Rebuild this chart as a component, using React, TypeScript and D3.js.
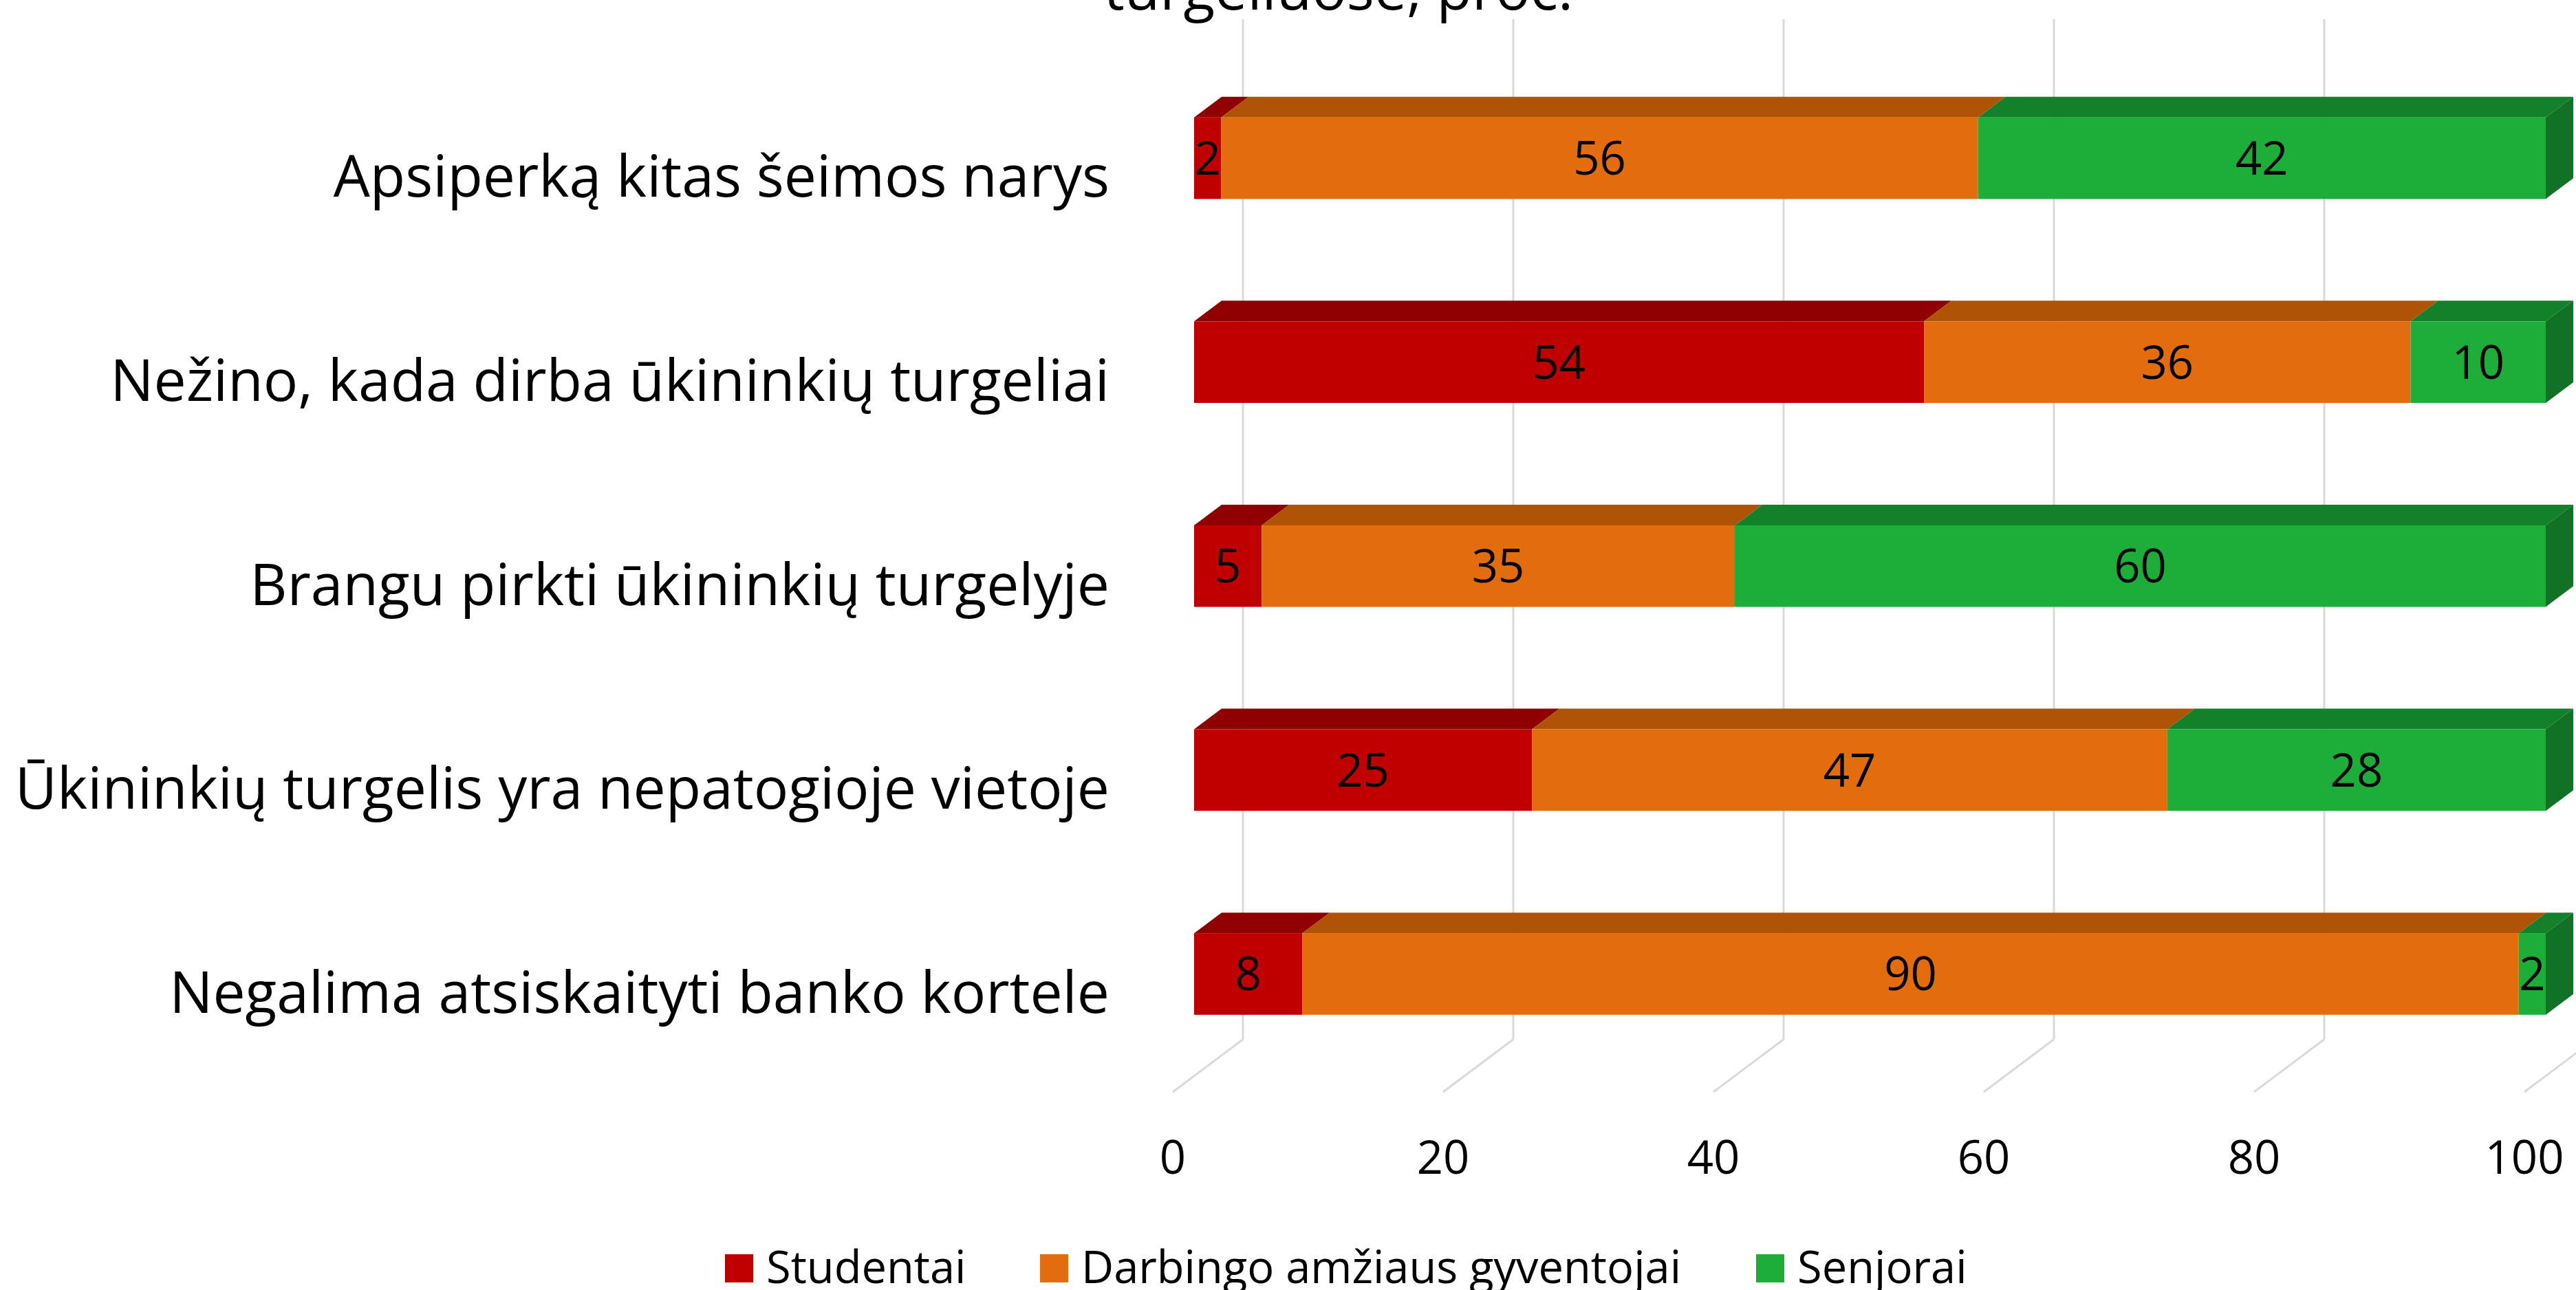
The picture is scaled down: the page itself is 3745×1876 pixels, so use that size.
import React from "react"
import * as d3 from "d3"

const categories = [
  "Apsiperką kitas šeimos narys",
  "Nežino, kada dirba ūkininkių turgeliai",
  "Brangu pirkti ūkininkių turgelyje",
  "Ūkininkių turgelis yra nepatogioje vietoje",
  "Negalima atsiskaityti banko kortele"
]

const seriesNames = ["Studentai", "Darbingo amžiaus gyventojai", "Senjorai"]
const studentai = [2, 54, 5, 25, 8]
const darbingo = [56, 36, 35, 47, 90]
const senjorai = [42, 10, 60, 28, 2]
const ticks = [0, 20, 40, 60, 80, 100]

const colors = [
  { front: "#C00000", top: "#900000", side: "#7A0000" },
  { front: "#E36C0C", top: "#AF5307", side: "#964705" },
  { front: "#1DAE39", top: "#13812A", side: "#117125" }
]

const W = 3745
const H = 1876
const FONT = "'Open Sans', 'Noto Sans', sans-serif"

// oblique 3d: depth d moves (+d, -0.75d)
const SLOPE = 0.75
const D_BAR_FRONT = 31
const D_BAR_BACK = 71
const D_WALL = 102
const FLOOR_Y = 1588

const xScale = d3.scaleLinear().domain([0, 100]).range([1705, 3670])
const yScale = d3
  .scaleBand<string>()
  .domain(categories)
  .range([105, FLOOR_Y])
  .paddingInner(0.6)
  .paddingOuter(0.3)

const legendX = [1054, 1512, 2553]

export default function App() {
  const rows = categories.map((c, i) => {
    const vals = [studentai[i], darbingo[i], senjorai[i]]
    let acc = 0
    const segs = vals.map((v, k) => {
      const s = { k, v, x0: acc, x1: acc + v }
      acc += v
      return s
    })
    return { c, segs }
  })

  const bw = yScale.bandwidth()
  const dz = D_BAR_BACK - D_BAR_FRONT

  return (
    <div style={{ position: "absolute", left: 0, top: 0, background: "white" }}>
      <style>{"body{margin:0}"}</style>
      <svg width={W} height={H} style={{ display: "block" }} fontFamily={FONT}>
        <rect width={W} height={H} fill="white" />
        {/* title (first line is cut off above) */}
        <text x={1946} y={14} fontSize={84} textAnchor="middle" fill="#000">
          turgeliuose, proc.
        </text>

        {/* back wall gridlines + floor diagonals */}
        {ticks.map(t => {
          const xb = xScale(t) + D_WALL
          const yb = FLOOR_Y - SLOPE * D_WALL
          return (
            <g key={t} stroke="#D9D9D9" strokeWidth={3} fill="none">
              <line x1={xb} x2={xb} y1={28} y2={yb} />
              <line x1={xb} y1={yb} x2={xScale(t)} y2={FLOOR_Y} />
            </g>
          )
        })}

        {/* bars */}
        {rows.map(r => {
          const yTop = (yScale(r.c) as number) - SLOPE * D_BAR_FRONT
          const yBot = yTop + bw
          const last = r.segs[r.segs.length - 1]
          const xEnd = xScale(last.x1) + D_BAR_FRONT
          return (
            <g key={r.c}>
              {r.segs.map(s => {
                const a = xScale(s.x0) + D_BAR_FRONT
                const b = xScale(s.x1) + D_BAR_FRONT
                const col = colors[s.k]
                return (
                  <g key={s.k}>
                    <path
                      d={`M${a},${yTop}L${b},${yTop}L${b + dz},${yTop - SLOPE * dz}L${a + dz},${yTop - SLOPE * dz}Z`}
                      fill={col.top}
                    />
                    <rect x={a} y={yTop} width={b - a} height={bw} fill={col.front} />
                  </g>
                )
              })}
              <path
                d={`M${xEnd},${yTop}L${xEnd + dz},${yTop - SLOPE * dz}L${xEnd + dz},${yBot - SLOPE * dz}L${xEnd},${yBot}Z`}
                fill={colors[last.k].side}
              />
              {r.segs.map(s => (
                <text
                  key={"l" + s.k}
                  x={(xScale(s.x0) + xScale(s.x1)) / 2 + D_BAR_FRONT}
                  y={yTop + bw / 2 + 24}
                  fontSize={67}
                  textAnchor="middle"
                  fill="#000"
                >
                  {s.v}
                </text>
              ))}
            </g>
          )
        })}

        {/* category labels */}
        {categories.map(c => (
          <text
            key={c}
            x={1613}
            y={(yScale(c) as number) + bw / 2 + 33}
            fontSize={84}
            textAnchor="end"
            fill="#000"
          >
            {c}
          </text>
        ))}

        {/* value axis labels */}
        {ticks.map(t => (
          <text key={t} x={xScale(t)} y={1707} fontSize={67} textAnchor="middle" fill="#000">
            {t}
          </text>
        ))}

        {/* legend */}
        {seriesNames.map((n, k) => (
          <g key={n}>
            <rect x={legendX[k]} y={1824} width={41} height={41} fill={colors[k].front} />
            <text x={legendX[k] + 60} y={1866} fontSize={65} fill="#000">
              {n}
            </text>
          </g>
        ))}
      </svg>
    </div>
  )
}
